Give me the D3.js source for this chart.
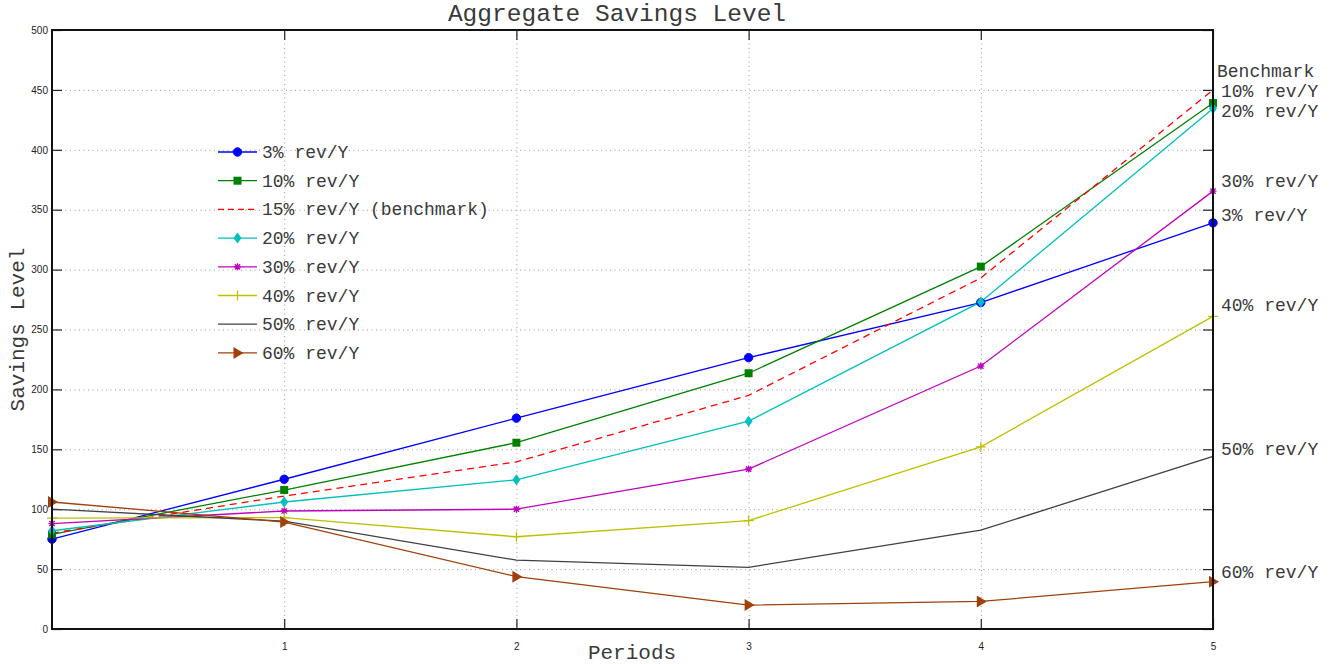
<!DOCTYPE html>
<html>
<head>
<meta charset="utf-8">
<script src="https://cdn.jsdelivr.net/npm/d3@7"></script>
<style>
  html, body { margin: 0; padding: 0; background: #fff; }
  svg { display: block; }
  .mono { font-family: "Courier New", "Liberation Mono", "DejaVu Sans Mono", monospace; fill: #3a3a3a; }
  .tick-label { font-family: "Liberation Sans", Arial, Helvetica, sans-serif; font-size: 10px; fill: #222; }
</style>
</head>
<body>
<svg id="chart" width="1339" height="664"></svg>
<script>
// Periods on the horizontal axis
const periods = [0, 1, 2, 3, 4, 5];
const xTicks = [1, 2, 3, 4, 5];
const yTicks = [0, 50, 100, 150, 200, 250, 300, 350, 400, 450, 500];

// Savings level per scenario
const s03 = [75, 125, 176, 226.5, 272.5, 339];
const s10 = [79, 116, 155.5, 213.5, 302.5, 439];
const s15 = [80, 111, 139.5, 195, 293, 450];
const s20 = [82, 106, 124.5, 173.5, 273, 434.5];
const s30 = [88, 98.5, 100, 133.5, 219.5, 365.5];
const s40 = [92.5, 93, 77, 90.5, 152, 261];
const s50 = [100, 90, 57.5, 51.5, 82.5, 144];
const s60 = [106, 89.3, 43.7, 20, 23, 39.5];

const seriesNames = ["3% rev/Y", "10% rev/Y", "15% rev/Y (benchmark)", "20% rev/Y",
                     "30% rev/Y", "40% rev/Y", "50% rev/Y", "60% rev/Y"];
const seriesValues = [s03, s10, s15, s20, s30, s40, s50, s60];
const seriesColors = ["#0000ff", "#008000", "#ff0000", "#00bfbf", "#bf00bf", "#bfbf00", "#404040", "#a0400a"];
const seriesMarkers = ["circle", "square", "none", "diamond", "star", "plus", "none", "triangle"];
const seriesDashed = [false, false, true, false, false, false, false, false];

// End-of-line annotations on the right
const endLabels = ["Benchmark", "10% rev/Y", "20% rev/Y", "30% rev/Y", "3% rev/Y", "40% rev/Y", "50% rev/Y", "60% rev/Y"];
const endLabelValues = [467, 450, 433.5, 375, 346, 271, 151, 48.5];

const svg = d3.select("#chart");
const L = 52, R = 1213, T = 30, B = 629;

const x = d3.scaleLinear().domain([0, 5]).range([L, R]);
const y = d3.scaleLinear().domain([0, 500]).range([B, T]);

// Dotted grid
const grid = svg.append("g").attr("stroke", "#9a9a9a").attr("stroke-width", 1)
  .attr("stroke-dasharray", "1,3.5");
grid.selectAll(".gy").data(yTicks.filter(v => v > 0 && v < 500)).enter().append("line")
  .attr("x1", L).attr("x2", R).attr("y1", d => y(d) + 0.5).attr("y2", d => y(d) + 0.5);
grid.selectAll(".gx").data(xTicks.filter(v => v < 5)).enter().append("line")
  .attr("y1", T).attr("y2", B).attr("x1", d => x(d) + 0.5).attr("x2", d => x(d) + 0.5);

// Axes with inward ticks on all four sides
const tickLen = 10;
const axes = svg.append("g");
axes.append("g").attr("transform", `translate(${L},0)`)
  .call(d3.axisLeft(y).tickValues(yTicks).tickSize(-tickLen).tickPadding(4).tickFormat(d3.format("d")))
  .call(g => g.select(".domain").remove());
axes.append("g").attr("transform", `translate(${R},0)`)
  .call(d3.axisRight(y).tickValues(yTicks).tickSize(-tickLen).tickFormat(""))
  .call(g => g.select(".domain").remove());
axes.append("g").attr("transform", `translate(0,${B})`)
  .call(d3.axisBottom(x).tickValues(xTicks).tickSize(-tickLen).tickPadding(14).tickFormat(d3.format("d")))
  .call(g => g.select(".domain").remove());
axes.append("g").attr("transform", `translate(0,${T})`)
  .call(d3.axisTop(x).tickValues(xTicks).tickSize(-tickLen).tickFormat(""))
  .call(g => g.select(".domain").remove());
axes.selectAll(".tick line").attr("stroke", "#222").attr("stroke-width", 1.2);
axes.selectAll(".tick text").attr("class", "tick-label").attr("font-family", null).attr("font-size", null);

// Series lines
const line = d3.line().x((d, i) => x(periods[i])).y(d => y(d));
const plot = svg.append("g");
seriesValues.forEach((vals, k) => {
  plot.append("path").datum(vals)
    .attr("d", line).attr("fill", "none")
    .attr("stroke", seriesColors[k]).attr("stroke-width", 1.3)
    .attr("stroke-dasharray", seriesDashed[k] ? "7,5" : null);
});

function drawMarker(g, type, cx, cy, color) {
  if (type === "circle") {
    g.append("circle").attr("cx", cx).attr("cy", cy).attr("r", 4.2).attr("fill", color).attr("stroke", color);
  } else if (type === "square") {
    g.append("rect").attr("x", cx - 4).attr("y", cy - 4).attr("width", 8).attr("height", 8).attr("fill", color);
  } else if (type === "diamond") {
    g.append("path").attr("d", `M${cx},${cy - 5.5}L${cx + 4},${cy}L${cx},${cy + 5.5}L${cx - 4},${cy}Z`).attr("fill", color);
  } else if (type === "star") {
    const s = 3.5;
    g.append("path").attr("d",
      `M${cx - s},${cy}L${cx + s},${cy}M${cx},${cy - s}L${cx},${cy + s}` +
      `M${cx - s * 0.75},${cy - s * 0.75}L${cx + s * 0.75},${cy + s * 0.75}` +
      `M${cx - s * 0.75},${cy + s * 0.75}L${cx + s * 0.75},${cy - s * 0.75}`)
      .attr("stroke", color).attr("stroke-width", 1.4);
  } else if (type === "plus") {
    const s = 5;
    g.append("path").attr("d", `M${cx - s},${cy}L${cx + s},${cy}M${cx},${cy - s}L${cx},${cy + s}`)
      .attr("stroke", color).attr("stroke-width", 1.2);
  } else if (type === "triangle") {
    g.append("path").attr("d", `M${cx + 6},${cy}L${cx - 4},${cy - 6}L${cx - 4},${cy + 6}Z`).attr("fill", color);
  }
}

seriesValues.forEach((vals, k) => {
  vals.forEach((v, i) => drawMarker(plot, seriesMarkers[k], x(periods[i]), y(v), seriesColors[k]));
});

// Frame
svg.append("rect").attr("x", L).attr("y", T).attr("width", R - L).attr("height", B - T)
  .attr("fill", "none").attr("stroke", "#111").attr("stroke-width", 2);

// Legend
const legend = svg.append("g");
const lgX0 = 218, lgX1 = 257, lgY0 = 152, lgStep = 28.7;
seriesNames.forEach((name, k) => {
  const ly = lgY0 + k * lgStep;
  legend.append("line").attr("x1", lgX0).attr("x2", lgX1).attr("y1", ly).attr("y2", ly)
    .attr("stroke", seriesColors[k]).attr("stroke-width", 1.3)
    .attr("stroke-dasharray", seriesDashed[k] ? "6,4" : null);
  drawMarker(legend, seriesMarkers[k], (lgX0 + lgX1) / 2, ly, seriesColors[k]);
  legend.append("text").attr("class", "mono").attr("x", 262).attr("y", ly + 6)
    .attr("font-size", 18).text(name);
});

// End labels
endLabels.forEach((t, i) => {
  svg.append("text").attr("class", "mono")
    .attr("x", i === 0 ? 1217 : 1221).attr("y", y(endLabelValues[i]) + 7)
    .attr("font-size", 18).text(t);
});

// Titles
svg.append("text").attr("class", "mono").attr("x", 617).attr("y", 21)
  .attr("text-anchor", "middle").attr("font-size", 24.5).text("Aggregate Savings Level");
svg.append("text").attr("class", "mono").attr("x", 632).attr("y", 659)
  .attr("text-anchor", "middle").attr("font-size", 21).text("Periods");
svg.append("text").attr("class", "mono")
  .attr("transform", `translate(24,${(T + B) / 2}) rotate(-90)`)
  .attr("text-anchor", "middle").attr("font-size", 21).text("Savings Level");
</script>
</body>
</html>
